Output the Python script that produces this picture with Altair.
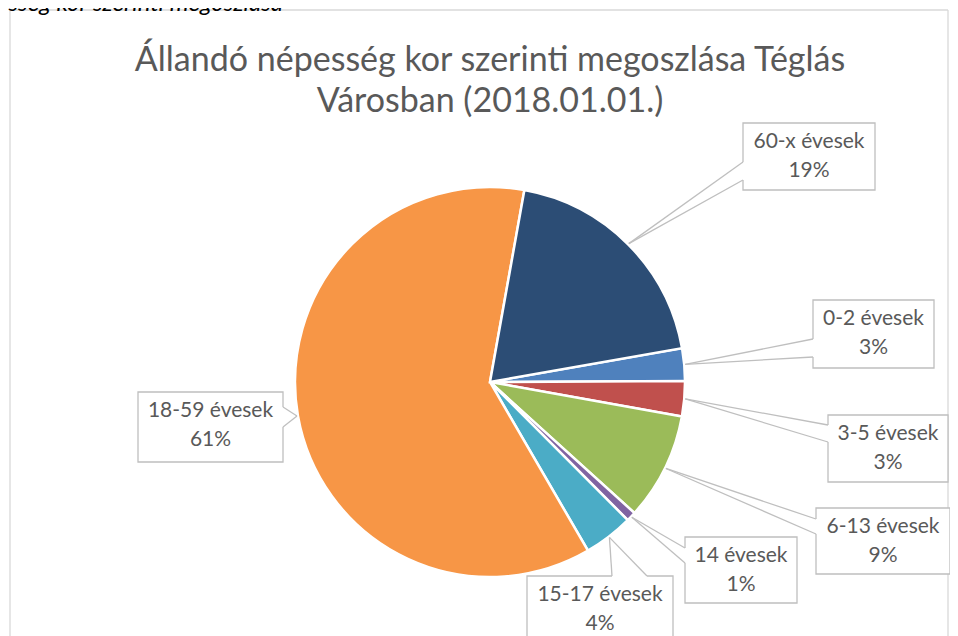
import math
import altair as alt
import pandas as pd

# ---------------- data ----------------
categories = ["0-2 évesek", "3-5 évesek", "6-13 évesek", "14 évesek",
              "15-17 évesek", "18-59 évesek", "60-x évesek"]
values = [2.7, 2.9, 8.9, 0.8, 4.1, 61.2, 19.4]
colors = ["#4F81BD", "#C0504D", "#9BBB59", "#8064A2",
          "#4BACC6", "#F79646", "#2C4D75"]
title_lines = ["Állandó népesség kor szerinti megoszlása Téglás",
               "Városban (2018.01.01.)"]
caption = "esség kor szerinti megoszlása"

# ---------------- layout (page pixels) ----------------
OFF = 8
W, H = 942, 628
CX, CY, R = 490 - OFF, 382 - OFF, 195
START = math.radians(80)
# box x0, y0, x1, y1, attach1 (x,y), attach2 (x,y)
boxes = {
    "0-2 évesek":   (813, 300, 934, 368, (813, 339), (813, 357)),
    "3-5 évesek":   (828, 415, 948, 482, (828, 425), (828, 442)),
    "6-13 évesek":  (816, 508, 950, 574, (816, 519), (816, 534)),
    "14 évesek":    (685, 537, 797, 603, (685, 548), (685, 563)),
    "15-17 évesek": (527, 576, 673, 660, (612, 576), (647, 576)),
    "18-59 évesek": (138, 392, 283, 462, (283, 407), (283, 427)),
    "60-x évesek":  (743, 123, 875, 190, (743, 162), (743, 180)),
}

rows = []
for i, (c, v) in enumerate(zip(categories, values)):
    b = boxes[c]
    rows.append(dict(cat=c, value=v, idx=i,
                     x0=b[0] - OFF, y0=b[1] - OFF, x1=b[2] - OFF, y1=b[3] - OFF,
                     a1x=b[4][0] - OFF, a1y=b[4][1] - OFF,
                     a2x=b[5][0] - OFF, a2y=b[5][1] - OFF,
                     cx=(b[0] + b[2]) / 2 - OFF,
                     ty0=b[1] + 19 - OFF))
df = pd.DataFrame(rows)

TEXT = "#595959"
GRID = "#BFBFBF"
FONT = "Lato"

pie = alt.Chart(df).mark_arc(outerRadius=R, stroke="white", strokeWidth=2.5).encode(
    theta=alt.Theta("value:Q", stack=True,
                    scale=alt.Scale(range=[START, START + 2 * math.pi])),
    color=alt.Color("cat:N", scale=alt.Scale(domain=categories, range=colors), legend=None),
    order=alt.Order("idx:Q"),
    x=alt.value(CX), y=alt.value(CY),
)

base = alt.Chart(df).transform_joinaggregate(
    total="sum(value)"
).transform_window(
    cum="sum(value)", sort=[alt.SortField("idx")], frame=[None, 0]
).transform_calculate(
    mid=f"{START} + 2*PI*(datum.cum - datum.value/2)/datum.total",
).transform_calculate(
    tx=f"{CX} + {R + 1}*sin(datum.mid)",
    ty=f"{CY} - {R + 1}*cos(datum.mid)",
    label="[datum.cat, format(datum.value/datum.total, '.0%')]",
)

rects = base.mark_rect(fill="white", stroke=GRID, strokeWidth=1.3).encode(
    x=alt.X("x0:Q", scale=None), x2="x1:Q",
    y=alt.Y("y0:Q", scale=None), y2="y1:Q",
)
gaps = base.mark_rule(color="white", strokeWidth=3).encode(
    x=alt.X("a1x:Q", scale=None), x2="a2x:Q",
    y=alt.Y("a1y:Q", scale=None), y2="a2y:Q",
)
lead1 = base.mark_rule(color=GRID, strokeWidth=1.3).encode(
    x=alt.X("tx:Q", scale=None), x2="a1x:Q",
    y=alt.Y("ty:Q", scale=None), y2="a1y:Q",
)
lead2 = base.mark_rule(color=GRID, strokeWidth=1.3).encode(
    x=alt.X("tx:Q", scale=None), x2="a2x:Q",
    y=alt.Y("ty:Q", scale=None), y2="a2y:Q",
)
labels = base.mark_text(font=FONT, fontSize=21, color=TEXT, lineHeight=29,
                        align="center", baseline="middle").encode(
    x=alt.X("cx:Q", scale=None), y=alt.Y("ty0:Q", scale=None), text="label:N",
)

tdf = pd.DataFrame({"t": title_lines, "i": [0, 1]})
title = alt.Chart(tdf).mark_text(font=FONT, fontSize=34, color=TEXT,
                                 align="center", baseline="alphabetic").encode(
    x=alt.value(490 - OFF),
    y=alt.Y("i:Q", scale=alt.Scale(domain=[0, 1], range=[71 - OFF, 112 - OFF]), axis=None),
    text="t:N",
)

cap = alt.Chart(pd.DataFrame({"t": [caption]})).mark_text(
    font=FONT, fontSize=24, fontStyle="italic", color="black",
    align="left", baseline="alphabetic").encode(
    x=alt.value(-11), y=alt.value(3), text="t:N")

border_top = alt.Chart(pd.DataFrame({"a": [0]})).mark_rule(color="#D9D9D9", strokeWidth=1.3).encode(
    x=alt.value(10 - OFF), x2=alt.value(948 - OFF), y=alt.value(10 - OFF), y2=alt.value(10 - OFF))
border_left = alt.Chart(pd.DataFrame({"a": [0]})).mark_rule(color="#D9D9D9", strokeWidth=1.3).encode(
    x=alt.value(10 - OFF), x2=alt.value(10 - OFF), y=alt.value(10 - OFF), y2=alt.value(H + 20))
border_right = alt.Chart(pd.DataFrame({"a": [0]})).mark_rule(color="#D9D9D9", strokeWidth=1.3).encode(
    x=alt.value(948 - OFF), x2=alt.value(948 - OFF), y=alt.value(10 - OFF), y2=alt.value(H + 20))

chart = alt.layer(
    border_top, border_left, border_right, pie, rects, gaps, lead1, lead2, labels, title, cap
).resolve_scale(x="independent", y="independent").properties(
    width=W, height=H, padding=0, autosize=alt.AutoSizeParams(type="none")
).configure_view(stroke=None)

chart.save("out.html", embed_options={"renderer": "svg", "actions": False})
